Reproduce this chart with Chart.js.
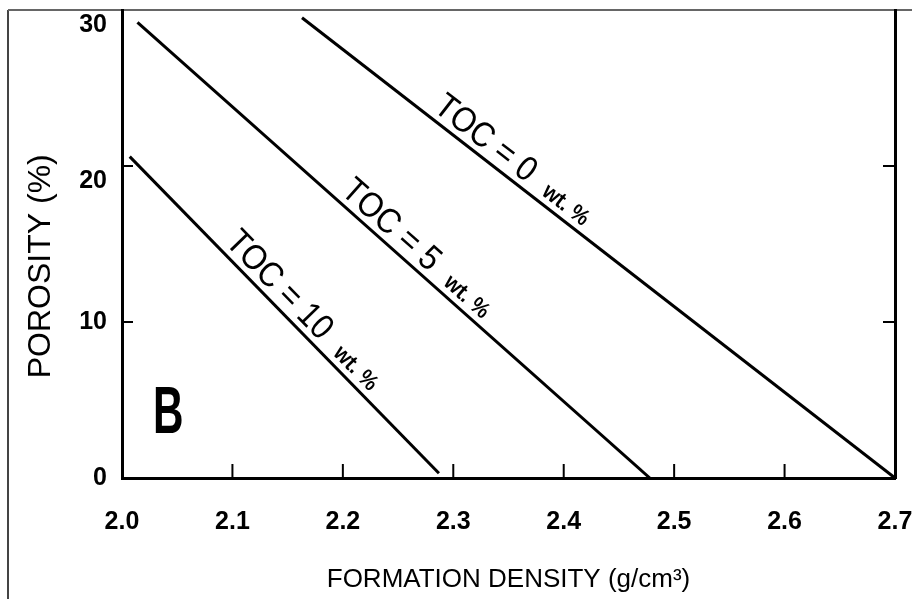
<!DOCTYPE html>
<html>
<head>
<meta charset="utf-8">
<script src="https://cdn.jsdelivr.net/npm/chart.js@4/dist/chart.umd.min.js"></script>
<style>
html,body{margin:0;padding:0;background:#fff;}
#wrap{width:912px;height:599px;position:relative;}
canvas{display:block;}
</style>
</head>
<body>
<div id="wrap"><canvas id="c" width="912" height="599"></canvas></div>
<script>
// ---- data ----
const xTickValues = [2.0, 2.1, 2.2, 2.3, 2.4, 2.5, 2.6, 2.7];
const yTickValues = [0, 10, 20, 30];
const seriesNames = ['TOC = 0', 'TOC = 5', 'TOC = 10'];
const densityToc0 = [2.163, 2.700];
const porosityToc0 = [29.5, 0.0];
const densityToc5 = [2.014, 2.478];
const porosityToc5 = [29.2, 0.0];
const densityToc10 = [2.007, 2.287];
const porosityToc10 = [20.6, 0.3];
const unitText = 'wt. %';
const panelLetter = 'B';
const xTitle = 'FORMATION DENSITY (g/cm\u00B3)';
const yTitle = 'POROSITY (%)';

// ---- annotation placement (not data) ----
const labelStartDensity = [2.277, 2.193, 2.088];
const panelLetterAt = {x: 2.028, y: 2.9};

const FONT = "'Liberation Sans Narrow','Arial Narrow','Liberation Sans',Arial,sans-serif";
const seriesX = [densityToc0, densityToc5, densityToc10];
const seriesY = [porosityToc0, porosityToc5, porosityToc10];

const datasets = seriesNames.map((name, i) => ({
  label: name,
  data: seriesX[i].map((xv, j) => ({x: xv, y: seriesY[i][j]})),
  showLine: true,
  borderColor: '#000',
  borderWidth: 3,
  pointRadius: 0,
  fill: false,
  yAxisID: 'y'
}));

const framePlugin = {
  id: 'frame',
  beforeDraw(chart) {
    const ctx = chart.ctx;
    ctx.save();
    ctx.fillStyle = '#fff';
    ctx.fillRect(0, 0, chart.width, chart.height);
    ctx.strokeStyle = '#444';
    ctx.lineWidth = 2;
    ctx.beginPath();
    ctx.moveTo(8, chart.height);
    ctx.lineTo(8, 10);
    ctx.stroke();
    ctx.strokeStyle = '#666';
    ctx.beginPath();
    ctx.moveTo(8, 10);
    ctx.lineTo(chart.width, 10);
    ctx.stroke();
    ctx.restore();
  }
};

const innerTicksPlugin = {
  id: 'innerTicks',
  afterDraw(chart) {
    const {ctx, chartArea, scales} = chart;
    ctx.save();
    ctx.strokeStyle = '#000';
    ctx.lineWidth = 2;
    xTickValues.forEach(v => {
      if (v === xTickValues[0] || v === xTickValues[xTickValues.length - 1]) return;
      const px = scales.x.getPixelForValue(v);
      ctx.beginPath();
      ctx.moveTo(px, chartArea.bottom);
      ctx.lineTo(px, chartArea.bottom - 14);
      ctx.stroke();
    });
    yTickValues.forEach(v => {
      if (v === yTickValues[0] || v === yTickValues[yTickValues.length - 1]) return;
      const py = scales.y.getPixelForValue(v);
      ctx.beginPath();
      ctx.moveTo(chartArea.left, py);
      ctx.lineTo(chartArea.left + 11, py);
      ctx.stroke();
      const py2 = scales.y2.getPixelForValue(v);
      ctx.beginPath();
      ctx.moveTo(chartArea.right, py2);
      ctx.lineTo(chartArea.right - 12, py2);
      ctx.stroke();
    });
    ctx.restore();
  }
};

const lineLabelsPlugin = {
  id: 'lineLabels',
  afterDatasetsDraw(chart) {
    const {ctx, scales} = chart;
    const xs = scales.x, ys = scales.y;
    seriesNames.forEach((name, i) => {
      const dx = seriesX[i], dy = seriesY[i];
      const px0 = xs.getPixelForValue(dx[0]), py0 = ys.getPixelForValue(dy[0]);
      const px1 = xs.getPixelForValue(dx[1]), py1 = ys.getPixelForValue(dy[1]);
      const ang = Math.atan2(py1 - py0, px1 - px0);
      const t = (labelStartDensity[i] - dx[0]) / (dx[1] - dx[0]);
      const sx = px0 + t * (px1 - px0), sy = py0 + t * (py1 - py0);
      ctx.save();
      ctx.translate(sx, sy);
      ctx.rotate(ang);
      ctx.translate(0, -7);
      ctx.scale(0.9, 1);
      ctx.fillStyle = '#000';
      ctx.textBaseline = 'alphabetic';
      ctx.textAlign = 'left';
      ctx.font = '35px ' + FONT;
      ctx.fillText(name, 0, 0);
      const w = ctx.measureText(name).width;
      ctx.font = 'bold 23px ' + FONT;
      ctx.fillText(unitText, w + 20, 0);
      ctx.restore();
    });
    // panel letter
    ctx.save();
    ctx.fillStyle = '#000';
    ctx.translate(xs.getPixelForValue(panelLetterAt.x), ys.getPixelForValue(panelLetterAt.y));
    ctx.scale(0.64, 1);
    ctx.font = 'bold 66px ' + FONT;
    ctx.textBaseline = 'alphabetic';
    ctx.textAlign = 'left';
    ctx.fillText(panelLetter, 0, 0);
    ctx.restore();
  }
};

Chart.defaults.font.family = FONT;
Chart.defaults.color = '#000';

new Chart(document.getElementById('c'), {
  type: 'scatter',
  data: {datasets},
  options: {
    responsive: false,
    animation: false,
    devicePixelRatio: 1,
    layout: {padding: {top: 10, left: 0, right: 0, bottom: 0}},
    plugins: {legend: {display: false}, tooltip: {enabled: false}},
    scales: {
      x: {
        type: 'linear',
        position: 'bottom',
        min: 2.0,
        max: 2.7,
        afterBuildTicks(s) { s.ticks = xTickValues.map(v => ({value: v})); },
        afterFit(s) { s.height = 121; s.paddingLeft = 0; s.paddingRight = 0; },
        grid: {display: false, drawTicks: false},
        border: {display: true, width: 3, color: '#000'},
        ticks: {
          padding: 29,
          font: {size: 25, weight: 'bold'},
          color: '#000',
          maxRotation: 0,
          autoSkip: false,
          callback: v => Number(v).toFixed(1)
        },
        title: {display: true, text: xTitle, font: {size: 26}, color: '#000', padding: {top: 0, bottom: 4}}
      },
      y: {
        type: 'linear',
        position: 'left',
        min: 0,
        max: 30,
        afterBuildTicks(s) { s.ticks = yTickValues.map(v => ({value: v})); },
        afterFit(s) { s.width = 122; s.paddingTop = 0; s.paddingBottom = 0; },
        grid: {display: false, drawTicks: false},
        border: {display: true, width: 3, color: '#000'},
        ticks: {
          padding: 15,
          font: {size: 25, weight: 'bold'},
          color: '#000',
          autoSkip: false,
          // upper labels sit just below their tick in the reference
          callback: v => (v >= 20 ? ['', String(v)] : String(v))
        },
        // trailing no-break spaces move the visible title down, as in the reference
        title: {display: true, text: yTitle + '\u00A0\u00A0\u00A0\u00A0\u00A0', font: {size: 32}, color: '#000', padding: {top: 22, bottom: 0}}
      },
      y2: {
        type: 'linear',
        position: 'right',
        min: 0,
        max: 30,
        afterBuildTicks(s) { s.ticks = yTickValues.map(v => ({value: v})); },
        afterFit(s) { s.width = 17; s.paddingTop = 0; s.paddingBottom = 0; },
        grid: {display: false, drawTicks: false},
        border: {display: true, width: 3, color: '#000'},
        ticks: {display: false}
      }
    }
  },
  plugins: [framePlugin, innerTicksPlugin, lineLabelsPlugin]
});
</script>
</body>
</html>
